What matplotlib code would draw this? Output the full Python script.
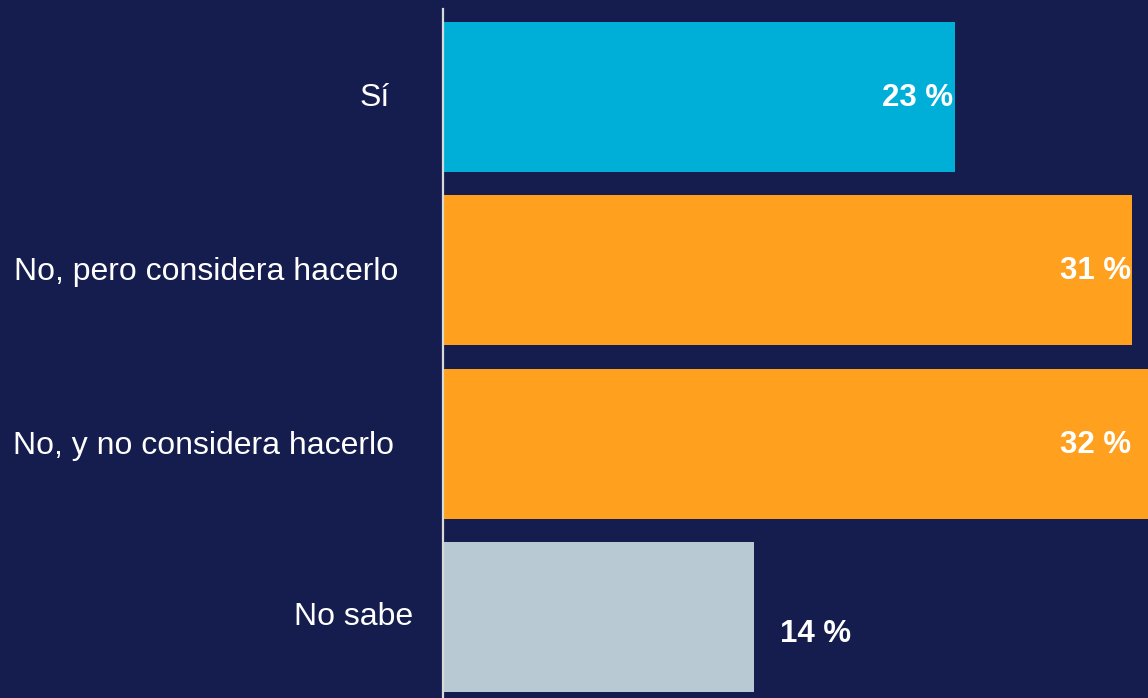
import matplotlib
matplotlib.use("Agg")
import matplotlib.pyplot as plt
import matplotlib.transforms as mtransforms

categories = ["Sí", "No, pero considera hacerlo", "No, y no considera hacerlo", "No sabe"]
values = [23, 31, 32, 14]
value_labels = ["23 %", "31 %", "32 %", "14 %"]

bg = "#151C4E"
colors = ["#00AFD8", "#FFA01E", "#FFA01E", "#B8C9D3"]

plt.rcParams["font.family"] = ["Liberation Sans", "DejaVu Sans"]

W, H = 1148, 698
fig = plt.figure(figsize=(W / 100, H / 100), dpi=100, facecolor=bg)
ax = fig.add_axes([443 / W, 0, 1 - 443 / W, 1 - 9 / H])
ax.set_facecolor(bg)

y = list(range(len(categories)))
ax.barh(y, values, height=0.866, color=colors, zorder=1)

xmax = 31.7
ax.set_xlim(0, xmax)
ax.set_ylim(3 + 0.467, -0.508)

for s in ["top", "right", "bottom"]:
    ax.spines[s].set_visible(False)
ax.spines["left"].set_color("#D9D9D9")
ax.spines["left"].set_linewidth(1.6)
ax.spines["left"].set_zorder(3)
ax.set_xticks([])
ax.set_yticks([])

# value labels
for i, (v, lab) in enumerate(zip(values, value_labels)):
    if v >= 20:
        ax.text(min(v - 0.05, 30.95), i + 0.006, lab, ha="right", va="center",
                color="white", fontsize=22.5, fontweight="bold", zorder=4)
    else:
        ax.text(v + 1.15, i + 0.1, lab, ha="left", va="center",
                color="white", fontsize=22.5, fontweight="bold", zorder=4)

# category labels
label_offsets = [-53, -45, -49, -30]  # pixels from axis to text right edge
label_dy = [0.006, 0.012, 0.012, 0.0]
for i, (cat, off) in enumerate(zip(categories, label_offsets)):
    tr = mtransforms.blended_transform_factory(ax.transAxes, ax.transData)
    tr = tr + mtransforms.ScaledTranslation(off / 100, 0, fig.dpi_scale_trans)
    ax.text(0, i + label_dy[i], cat, transform=tr, ha="right", va="center",
            color="white", fontsize=23, clip_on=False)

fig.savefig("out.png", dpi=100, facecolor=bg)
